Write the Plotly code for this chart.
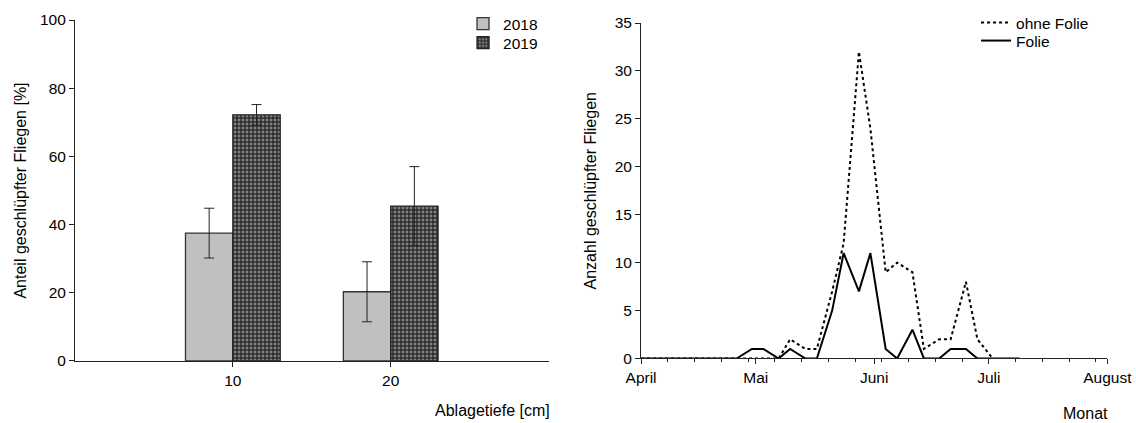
import plotly.graph_objects as go

# ---- left chart data ----
depth = [10, 20]
pct_2018 = [37.5, 20.3]
err_2018 = [7.3, 8.8]
pct_2019 = [72.2, 45.4]
err_2019 = [3.0, 11.6]

# ---- right chart data ----
dates_folie = ["2019-04-01", "2019-04-05", "2019-04-09", "2019-04-12", "2019-04-16",
               "2019-04-19", "2019-04-23", "2019-04-26", "2019-04-30", "2019-05-03",
               "2019-05-07", "2019-05-10", "2019-05-14", "2019-05-17", "2019-05-21",
               "2019-05-24", "2019-05-28", "2019-05-31", "2019-06-04", "2019-06-07",
               "2019-06-11", "2019-06-14", "2019-06-18", "2019-06-21", "2019-06-25",
               "2019-06-28", "2019-07-02", "2019-07-05", "2019-07-09"]
folie = [0, 0, 0, 0, 0, 0, 0, 0, 1, 1, 0, 1, 0, 0, 5, 11, 7, 11, 1, 0, 3, 0, 0, 1, 1, 0, 0, 0, 0]

dates_ohne = ["2019-04-01", "2019-04-05", "2019-04-09", "2019-04-12", "2019-04-16",
              "2019-04-19", "2019-04-23", "2019-04-26", "2019-04-30", "2019-05-03",
              "2019-05-07", "2019-05-10", "2019-05-14", "2019-05-17", "2019-05-21",
              "2019-05-24", "2019-05-28", "2019-05-31", "2019-06-04", "2019-06-07",
              "2019-06-11", "2019-06-14", "2019-06-18", "2019-06-21", "2019-06-25",
              "2019-06-28", "2019-07-02"]
ohne_folie = [0, 0, 0, 0, 0, 0, 0, 0, 0, 0, 0, 2, 1, 1, 7, 12, 32, 24, 9, 10, 9, 1, 2, 2, 8, 2, 0]

month_vals = ["2019-04-01", "2019-05-01", "2019-06-01", "2019-07-01", "2019-08-01"]
month_text = ["April", "Mai", "Juni", "Juli", "August"]

FONT = "Liberation Sans, Arial, sans-serif"
AX = "#222222"
FS = 15.5
FT = 16

fig = go.Figure()

fig.add_trace(go.Bar(
    x=depth, y=pct_2018, name="2018", width=3, offset=-3, showlegend=True,
    marker=dict(color="#c0c0c0", line=dict(color="#333333", width=1.3)),
    error_y=dict(type="data", array=err_2018, color="#222222", thickness=1, width=5),
    xaxis="x", yaxis="y", legend="legend",
))
fig.add_trace(go.Bar(
    x=depth, y=pct_2019, name="2019", width=3, offset=0, showlegend=True,
    marker=dict(color="#7a7a7a", line=dict(color="#222222", width=1.3),
                pattern=dict(shape="+", fgcolor="#111111", bgcolor="#828282",
                             size=4, solidity=0.45)),
    error_y=dict(type="data", array=err_2019, color="#222222", thickness=1, width=5),
    xaxis="x", yaxis="y", legend="legend2",
))

fig.add_trace(go.Scatter(
    x=dates_ohne, y=ohne_folie, name="ohne Folie", mode="lines", showlegend=True,
    line=dict(color="black", width=2, dash="dot"),
    xaxis="x2", yaxis="y2", legend="legend3",
))
fig.add_trace(go.Scatter(
    x=dates_folie, y=folie, name="Folie", mode="lines", showlegend=True,
    line=dict(color="black", width=2),
    xaxis="x2", yaxis="y2", legend="legend4",
))

common_axis = dict(showline=True, linecolor=AX, linewidth=1, ticks="outside",
                   ticklen=5, tickcolor=AX, showgrid=False, zeroline=False,
                   automargin=False,
                   tickfont=dict(family=FONT, size=FS, color="black"))


def leg(x, y):
    return dict(x=x, y=y, xanchor="left", yanchor="top",
                bgcolor="rgba(0,0,0,0)", font=dict(family=FONT, size=FS),
                itemwidth=30, tracegroupgap=0, visible=True)


fig.update_layout(
    template="none",
    showlegend=True,
    width=1136, height=423,
    margin=dict(l=0, r=0, t=0, b=0, pad=0),
    paper_bgcolor="white", plot_bgcolor="white",
    font=dict(family=FONT, size=FS, color="black"),
    barmode="overlay",
    xaxis=dict(domain=[0.0660, 0.4829], range=[0, 30], tickvals=depth,
               anchor="y", **common_axis),
    yaxis=dict(domain=[0.1466, 0.9527], range=[0, 100], dtick=20,
               anchor="x",
               title=dict(text="Anteil geschlüpfter Fliegen [%]", standoff=9,
                          font=dict(family=FONT, size=FT)),
               **common_axis),
    xaxis2=dict(domain=[0.5643, 0.9748], type="date",
                range=["2019-04-01", "2019-08-01"],
                tickvals=month_vals, ticktext=month_text, anchor="y2",
                minor=dict(ticks="outside", ticklen=3, tickcolor=AX,
                           dtick=7 * 86400000, tick0="2019-04-01"),
                **common_axis),
    yaxis2=dict(domain=[0.1525, 0.9456], range=[0, 35], dtick=5, anchor="x2",
                title=dict(text="Anzahl geschlüpfter Fliegen", standoff=14,
                           font=dict(family=FONT, size=FT)),
                **common_axis),
    legend=leg(0.4076, 0.9835),
    legend2=leg(0.4076, 0.9385),
    legend3=leg(0.8592, 0.9858),
    legend4=leg(0.8592, 0.9433),
    annotations=[
        dict(text="Ablagetiefe [cm]", xref="paper", yref="paper",
             x=552 / 1136, y=1 - 410 / 423, xanchor="right", yanchor="middle",
             showarrow=False, font=dict(family=FONT, size=FT)),
        dict(text="Monat", xref="paper", yref="paper",
             x=1110 / 1136, y=1 - 413 / 423, xanchor="right", yanchor="middle",
             showarrow=False, font=dict(family=FONT, size=FT)),
    ],
)

fig.write_html("out.html")
